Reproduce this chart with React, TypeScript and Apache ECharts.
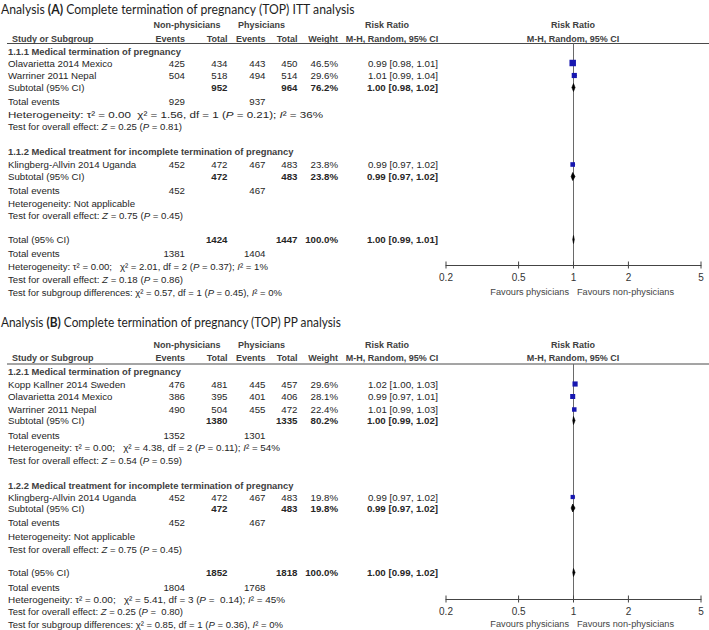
import React, { useEffect, useRef } from 'react';
import * as echarts from 'echarts';

/* ================= DATA : panel A (ITT) ================= */
const A_TITLE = 'Analysis {b|(A)} Complete termination of pregnancy (TOP) ITT analysis';
const A_GROUPS = ['1.1.1 Medical termination of pregnancy', '1.1.2 Medical treatment for incomplete termination of pregnancy'];
const A_STUDIES = ['Olavarietta 2014 Mexico', 'Warriner 2011 Nepal', 'Klingberg-Allvin 2014 Uganda'];
const A_STUDY_GROUP = [0, 0, 1];
const A_NP_EVENTS = [425, 504, 452];
const A_NP_TOTAL = [434, 518, 472];
const A_P_EVENTS = [443, 494, 467];
const A_P_TOTAL = [450, 514, 483];
const A_WEIGHT = [46.5, 29.6, 23.8];
const A_RR = [0.99, 1.01, 0.99];
const A_LO = [0.98, 0.99, 0.97];
const A_HI = [1.01, 1.04, 1.02];
const A_SUB_NP_EVENTS = [929, 452];
const A_SUB_NP_TOTAL = [952, 472];
const A_SUB_P_EVENTS = [937, 467];
const A_SUB_P_TOTAL = [964, 483];
const A_SUB_WEIGHT = [76.2, 23.8];
const A_SUB_RR = [1.0, 0.99];
const A_SUB_LO = [0.98, 0.97];
const A_SUB_HI = [1.02, 1.02];
const A_SUB_HET = [
  'Heterogeneity: τ² = 0.00 \u00a0χ² = 1.56, df = 1 ({i|P} = 0.21); {i|I}² = 36%',
  'Heterogeneity: Not applicable',
];
const A_SUB_TEST = [
  'Test for overall effect: {i|Z} = 0.25 ({i|P} = 0.81)',
  'Test for overall effect: {i|Z} = 0.75 ({i|P} = 0.45)',
];
const A_ALL_EVENTS = [1381, 1404];
const A_ALL_TOTAL = [1424, 1447];
const A_ALL_WEIGHT = 100.0;
const A_ALL_CI = [1.0, 0.99, 1.01];
const A_ALL_HET = 'Heterogeneity: τ² = 0.00; \u00a0\u00a0χ² = 2.01, df = 2 ({i|P} = 0.37); {i|I}² = 1%';
const A_ALL_TEST = 'Test for overall effect: {i|Z} = 0.18 ({i|P} = 0.86)';
const A_SUBGROUP = 'Test for subgroup differences: χ² = 0.57, df = 1 ({i|P} = 0.45), {i|I}² = 0%';

/* ================= DATA : panel B (PP) ================= */
const B_TITLE = 'Analysis {b|(B)} Complete termination of pregnancy (TOP) PP analysis';
const B_GROUPS = ['1.2.1 Medical termination of pregnancy', '1.2.2 Medical treatment for incomplete termination of pregnancy'];
const B_STUDIES = ['Kopp Kallner 2014 Sweden', 'Olavarietta 2014 Mexico', 'Warriner 2011 Nepal', 'Klingberg-Allvin 2014 Uganda'];
const B_STUDY_GROUP = [0, 0, 0, 1];
const B_NP_EVENTS = [476, 386, 490, 452];
const B_NP_TOTAL = [481, 395, 504, 472];
const B_P_EVENTS = [445, 401, 455, 467];
const B_P_TOTAL = [457, 406, 472, 483];
const B_WEIGHT = [29.6, 28.1, 22.4, 19.8];
const B_RR = [1.02, 0.99, 1.01, 0.99];
const B_LO = [1.0, 0.97, 0.99, 0.97];
const B_HI = [1.03, 1.01, 1.03, 1.02];
const B_SUB_NP_EVENTS = [1352, 452];
const B_SUB_NP_TOTAL = [1380, 472];
const B_SUB_P_EVENTS = [1301, 467];
const B_SUB_P_TOTAL = [1335, 483];
const B_SUB_WEIGHT = [80.2, 19.8];
const B_SUB_RR = [1.0, 0.99];
const B_SUB_LO = [0.99, 0.97];
const B_SUB_HI = [1.02, 1.02];
const B_SUB_HET = [
  'Heterogeneity: τ² = 0.00; \u00a0\u00a0χ² = 4.38, df = 2 ({i|P} = 0.11); {i|I}² = 54%',
  'Heterogeneity: Not applicable',
];
const B_SUB_TEST = [
  'Test for overall effect: {i|Z} = 0.54 ({i|P} = 0.59)',
  'Test for overall effect: {i|Z} = 0.75 ({i|P} = 0.45)',
];
const B_ALL_EVENTS = [1804, 1768];
const B_ALL_TOTAL = [1852, 1818];
const B_ALL_WEIGHT = 100.0;
const B_ALL_CI = [1.0, 0.99, 1.02];
const B_ALL_HET = 'Heterogeneity: τ² = 0.00; \u00a0\u00a0χ² = 5.41, df = 3 ({i|P} = \u00a00.14); {i|I}² = 45%';
const B_ALL_TEST = 'Test for overall effect: {i|Z} = 0.25 ({i|P} = \u00a00.80)';
const B_SUBGROUP = 'Test for subgroup differences: χ² = 0.85, df = 1 ({i|P} = 0.36), {i|I}² = 0%';

/* ================= axis ticks ================= */
const TICKS = [0.2, 0.5, 1, 2, 5];
const TICK_LABELS = ['0.2', '0.5', '1', '2', '5'];
const FAVOURS = ['Favours physicians', 'Favours non-physicians'];

/* ================= LAYOUT / STYLE ================= */
const SANS = "'Liberation Sans', Arial, Helvetica, sans-serif";
const TITLE_FONT = "Lato, 'Open Sans', sans-serif";
const BODY = 9.7;
const HEAD = 9;
const GROUP_SIZE = 9.4;
const TXT = '#262626';
const HEAD_C = '#404040';
const BLUE = '#1717b0';
const COL = { label: 8, headLabel: 12, npE: 185, npT: 227.5, pE: 265.5, pT: 297.5, w: 338, ci: 438, npHead: 187, pHead: 261.5, rrHead1: 387, rrHead2: 392, plotHead: 573 };
const PLOT_LEFT = 446;
const PLOT_W = 255;
const LOG_MIN = Math.log10(TICKS[0]);
const LOG_MAX = Math.log10(TICKS[TICKS.length - 1]);
const SQ_K = 0.95;
const DIAMOND_H = 4;

const LAYOUT_A = {
  title: 8.5, titleEnd: 356, head1: 25, head2: 38.5, rule: 43.5, axis: 265, favours: 292,
  rows: [51, 63, 75.5, 87.5, 101, 114.5, 126.5, 151.5, 164.5, 176.5, 190, 203, 215.5, 239.5, 253.5, 266, 279, 292],
  hetEnd: [323, 135], testEnd: [182, 183], allHetEnd: 268, allTestEnd: 183, subgroupEnd: 282,
};
const LAYOUT_B = {
  title: 321.7, titleEnd: 342, head1: 345, head2: 358, rule: 364, axis: 599, favours: 624,
  rows: [371.5, 384, 396.5, 409.5, 420.5, 435.5, 448, 460.5, 485, 497, 508, 522, 536, 549, 572.5, 587, 599.5, 611.5, 624],
  hetEnd: [280, 135], testEnd: [182, 182], allHetEnd: 285, allTestEnd: 183, subgroupEnd: 283,
};

const PANEL_A = {
  title: A_TITLE, groups: A_GROUPS, studies: A_STUDIES, studyGroup: A_STUDY_GROUP,
  npE: A_NP_EVENTS, npT: A_NP_TOTAL, pE: A_P_EVENTS, pT: A_P_TOTAL, w: A_WEIGHT, rr: A_RR, lo: A_LO, hi: A_HI,
  subNpE: A_SUB_NP_EVENTS, subNpT: A_SUB_NP_TOTAL, subPE: A_SUB_P_EVENTS, subPT: A_SUB_P_TOTAL, subW: A_SUB_WEIGHT,
  subRR: A_SUB_RR, subLo: A_SUB_LO, subHi: A_SUB_HI, subHet: A_SUB_HET, subTest: A_SUB_TEST,
  allE: A_ALL_EVENTS, allT: A_ALL_TOTAL, allW: A_ALL_WEIGHT, allCI: A_ALL_CI, allHet: A_ALL_HET, allTest: A_ALL_TEST, subgroup: A_SUBGROUP,
};
const PANEL_B = {
  title: B_TITLE, groups: B_GROUPS, studies: B_STUDIES, studyGroup: B_STUDY_GROUP,
  npE: B_NP_EVENTS, npT: B_NP_TOTAL, pE: B_P_EVENTS, pT: B_P_TOTAL, w: B_WEIGHT, rr: B_RR, lo: B_LO, hi: B_HI,
  subNpE: B_SUB_NP_EVENTS, subNpT: B_SUB_NP_TOTAL, subPE: B_SUB_P_EVENTS, subPT: B_SUB_P_TOTAL, subW: B_SUB_WEIGHT,
  subRR: B_SUB_RR, subLo: B_SUB_LO, subHi: B_SUB_HI, subHet: B_SUB_HET, subTest: B_SUB_TEST,
  allE: B_ALL_EVENTS, allT: B_ALL_TOTAL, allW: B_ALL_WEIGHT, allCI: B_ALL_CI, allHet: B_ALL_HET, allTest: B_ALL_TEST, subgroup: B_SUBGROUP,
};

/* ================= helpers ================= */
let ctx: CanvasRenderingContext2D | null = null;
function meas(t: string, size: number, weight: string, family: string, italic: boolean) {
  if (!ctx) ctx = document.createElement('canvas').getContext('2d');
  if (!ctx) return t.length * size * 0.5;
  ctx.font = `${italic ? 'italic' : 'normal'} ${weight} ${size}px ${family}`;
  return ctx.measureText(t).width;
}
function measureRich(text: string, size: number, weight: string, family: string) {
  let w = 0;
  let last = 0;
  const re = /\{(\w+)\|([^}]*)\}/g;
  let m: RegExpExecArray | null;
  while ((m = re.exec(text))) {
    if (m.index > last) w += meas(text.slice(last, m.index), size, weight, family, false);
    const tag = m[1];
    w += meas(m[2], size, tag === 'b' ? 'bold' : weight, family, tag === 'i');
    last = re.lastIndex;
  }
  if (last < text.length) w += meas(text.slice(last), size, weight, family, false);
  return w;
}
function txt(text: string, x: number, y: number, o: any = {}) {
  const size = o.size ?? BODY;
  const weight = o.bold ? 'bold' : 'normal';
  const family = o.family ?? SANS;
  const fill = o.fill ?? TXT;
  const align = o.align ?? 'left';
  let scaleX = 1;
  if (o.fitEnd != null) {
    const w = measureRich(text, size, weight, family);
    if (w > 0) scaleX = (o.fitEnd - x) / w;
  }
  return {
    type: 'text', x, y, scaleX, silent: true, z: 10,
    style: {
      text, fill, fontSize: size, fontFamily: family, fontWeight: weight,
      align, verticalAlign: 'middle', textAlign: align, textVerticalAlign: 'middle',
      rich: {
        i: { fontStyle: 'italic', fontSize: size, fontFamily: family, fontWeight: weight, fill },
        b: { fontWeight: 'bold', fontSize: size, fontFamily: family, fill },
      },
    },
  };
}
const ci = (r: number, l: number, h: number) => `${r.toFixed(2)} [${l.toFixed(2)}, ${h.toFixed(2)}]`;
const pct = (w: number) => `${w.toFixed(1)}%`;
const lg = (v: number) => Math.log10(v);

function buildPanel(P: any, L: any) {
  const els: any[] = [];
  const sq: any[] = [];
  const dm: any[] = [];
  els.push(txt(P.title, 1, L.title, { family: TITLE_FONT, size: 13.5, fill: '#1e1e1e', fitEnd: L.titleEnd }));
  const hb = { size: HEAD, bold: true, fill: HEAD_C };
  els.push(txt('Non-physicians', COL.npHead, L.head1, { ...hb, align: 'center' }));
  els.push(txt('Physicians', COL.pHead, L.head1, { ...hb, align: 'center' }));
  els.push(txt('Risk Ratio', COL.rrHead1, L.head1, { ...hb, align: 'center' }));
  els.push(txt('Risk Ratio', COL.plotHead, L.head1, { ...hb, align: 'center' }));
  els.push(txt('Study or Subgroup', COL.headLabel, L.head2, hb));
  els.push(txt('Events', COL.npE, L.head2, { ...hb, align: 'right' }));
  els.push(txt('Total', COL.npT, L.head2, { ...hb, align: 'right' }));
  els.push(txt('Events', COL.pE, L.head2, { ...hb, align: 'right' }));
  els.push(txt('Total', COL.pT, L.head2, { ...hb, align: 'right' }));
  els.push(txt('Weight', COL.w, L.head2, { ...hb, align: 'right' }));
  els.push(txt('M-H, Random, 95% CI', COL.rrHead2, L.head2, { ...hb, align: 'center' }));
  els.push(txt('M-H, Random, 95% CI', COL.plotHead, L.head2, { ...hb, align: 'center' }));
  els.push({ type: 'line', silent: true, shape: { x1: 7, y1: L.rule, x2: 709, y2: L.rule }, style: { stroke: '#4a4a4a', lineWidth: 1 } });

  let k = 0;
  P.groups.forEach((gt: string, g: number) => {
    els.push(txt(gt, COL.label, L.rows[k++], { size: GROUP_SIZE, bold: true, fill: HEAD_C }));
    P.studies.forEach((name: string, i: number) => {
      if (P.studyGroup[i] !== g) return;
      const y = L.rows[k++];
      els.push(txt(name, COL.label, y));
      els.push(txt(String(P.npE[i]), COL.npE, y, { align: 'right' }));
      els.push(txt(String(P.npT[i]), COL.npT, y, { align: 'right' }));
      els.push(txt(String(P.pE[i]), COL.pE, y, { align: 'right' }));
      els.push(txt(String(P.pT[i]), COL.pT, y, { align: 'right' }));
      els.push(txt(pct(P.w[i]), COL.w, y, { align: 'right' }));
      els.push(txt(ci(P.rr[i], P.lo[i], P.hi[i]), COL.ci, y, { align: 'right' }));
      sq.push([lg(P.rr[i]), y, lg(P.lo[i]), lg(P.hi[i]), P.w[i]]);
    });
    let y = L.rows[k++];
    els.push(txt('Subtotal (95% CI)', COL.label, y));
    els.push(txt(String(P.subNpT[g]), COL.npT, y, { align: 'right', bold: true }));
    els.push(txt(String(P.subPT[g]), COL.pT, y, { align: 'right', bold: true }));
    els.push(txt(pct(P.subW[g]), COL.w, y, { align: 'right', bold: true }));
    els.push(txt(ci(P.subRR[g], P.subLo[g], P.subHi[g]), COL.ci, y, { align: 'right', bold: true }));
    dm.push([lg(P.subRR[g]), y, lg(P.subLo[g]), lg(P.subHi[g])]);
    y = L.rows[k++];
    els.push(txt('Total events', COL.label, y));
    els.push(txt(String(P.subNpE[g]), COL.npE, y, { align: 'right' }));
    els.push(txt(String(P.subPE[g]), COL.pE, y, { align: 'right' }));
    els.push(txt(P.subHet[g], COL.label, L.rows[k++], { fitEnd: L.hetEnd[g] }));
    els.push(txt(P.subTest[g], COL.label, L.rows[k++], { fitEnd: L.testEnd[g] }));
  });
  let y = L.rows[k++];
  els.push(txt('Total (95% CI)', COL.label, y));
  els.push(txt(String(P.allT[0]), COL.npT, y, { align: 'right', bold: true }));
  els.push(txt(String(P.allT[1]), COL.pT, y, { align: 'right', bold: true }));
  els.push(txt(pct(P.allW), COL.w, y, { align: 'right', bold: true }));
  els.push(txt(ci(P.allCI[0], P.allCI[1], P.allCI[2]), COL.ci, y, { align: 'right', bold: true }));
  dm.push([lg(P.allCI[0]), y, lg(P.allCI[1]), lg(P.allCI[2])]);
  y = L.rows[k++];
  els.push(txt('Total events', COL.label, y));
  els.push(txt(String(P.allE[0]), COL.npE, y, { align: 'right' }));
  els.push(txt(String(P.allE[1]), COL.pE, y, { align: 'right' }));
  els.push(txt(P.allHet, COL.label, L.rows[k++], { fitEnd: L.allHetEnd }));
  els.push(txt(P.allTest, COL.label, L.rows[k++], { fitEnd: L.allTestEnd }));
  els.push(txt(P.subgroup, COL.label, L.rows[k++], { fitEnd: L.subgroupEnd }));

  els.push(txt(FAVOURS[0], 569, L.favours, { align: 'right', size: 9.2, fill: '#444' }));
  els.push(txt(FAVOURS[1], 577, L.favours, { align: 'left', size: 9.2, fill: '#444' }));
  return { els, sq, dm };
}

const squareRender = (params: any, api: any) => {
  const y = api.value(1);
  const c = api.coord([api.value(0), y]);
  const l = api.coord([api.value(2), y]);
  const h = api.coord([api.value(3), y]);
  const s = Math.sqrt(api.value(4)) * SQ_K;
  return {
    type: 'group',
    children: [
      { type: 'line', shape: { x1: l[0], y1: c[1], x2: h[0], y2: c[1] }, style: { stroke: '#000', lineWidth: 1 } },
      { type: 'rect', shape: { x: c[0] - s / 2, y: c[1] - s / 2, width: s, height: s }, style: { fill: BLUE } },
    ],
  };
};
const diamondRender = (params: any, api: any) => {
  const y = api.value(1);
  const c = api.coord([api.value(0), y]);
  const l = api.coord([api.value(2), y]);
  const h = api.coord([api.value(3), y]);
  return {
    type: 'polygon',
    shape: { points: [[l[0], c[1]], [c[0], c[1] - DIAMOND_H], [h[0], c[1]], [c[0], c[1] + DIAMOND_H]] },
    style: { fill: '#000', stroke: '#000', lineWidth: 0.6 },
  };
};
const tickRender = (params: any, api: any) => {
  const p = api.coord([api.value(0), api.value(1)]);
  return { type: 'line', shape: { x1: p[0], y1: p[1] - 3.5, x2: p[0], y2: p[1] + 3.5 }, style: { stroke: '#444', lineWidth: 1 } };
};

function buildOption() {
  const panels = [
    { P: PANEL_A, L: LAYOUT_A },
    { P: PANEL_B, L: LAYOUT_B },
  ];
  const elements: any[] = [];
  const series: any[] = [];
  const grid: any[] = [];
  const xAxis: any[] = [];
  const yAxis: any[] = [];
  const tickLogs = TICKS.map(lg);
  panels.forEach(({ P, L }, idx) => {
    const b = buildPanel(P, L);
    elements.push(...b.els);
    grid.push({ left: PLOT_LEFT, width: PLOT_W, top: L.rule, height: L.axis - L.rule, containLabel: false, outerBoundsMode: 'none' });
    xAxis.push({
      type: 'value', gridIndex: idx, min: LOG_MIN, max: LOG_MAX,
      axisLine: { show: true, onZero: false, lineStyle: { color: '#444', width: 1 } },
      axisTick: { show: false }, splitLine: { show: false },
      axisLabel: {
        customValues: tickLogs, margin: 7, fontSize: 10, color: '#333', fontFamily: SANS,
        formatter: (v: number) => {
          let best = 0;
          tickLogs.forEach((t, i) => { if (Math.abs(t - v) < Math.abs(tickLogs[best] - v)) best = i; });
          return TICK_LABELS[best];
        },
      },
    });
    yAxis.push({ type: 'value', gridIndex: idx, min: L.rule, max: L.axis, inverse: true, show: false });
    series.push({
      type: 'line', xAxisIndex: idx, yAxisIndex: idx, data: [[0, L.rule], [0, L.axis]],
      symbol: 'none', silent: true, lineStyle: { color: '#6a6a6a', width: 1 }, z: 1,
    });
    series.push({ type: 'custom', xAxisIndex: idx, yAxisIndex: idx, data: tickLogs.map((t) => [t, L.axis]), renderItem: tickRender, silent: true, z: 3 });
    series.push({ type: 'custom', xAxisIndex: idx, yAxisIndex: idx, data: b.sq, renderItem: squareRender, silent: true, z: 4 });
    series.push({ type: 'custom', xAxisIndex: idx, yAxisIndex: idx, data: b.dm, renderItem: diamondRender, silent: true, z: 4 });
  });
  return {
    animation: false,
    backgroundColor: '#ffffff',
    grid, xAxis, yAxis, series,
    graphic: { elements },
  };
}

export default function App() {
  const ref = useRef<HTMLDivElement>(null);
  useEffect(() => {
    if (!ref.current) return;
    const chart = echarts.init(ref.current, null, { renderer: 'svg' });
    chart.setOption(buildOption() as any);
    return () => chart.dispose();
  }, []);
  return <div ref={ref} style={{ position: 'absolute', left: 0, top: 0, width: 709, height: 630, background: '#fff' }} />;
}
